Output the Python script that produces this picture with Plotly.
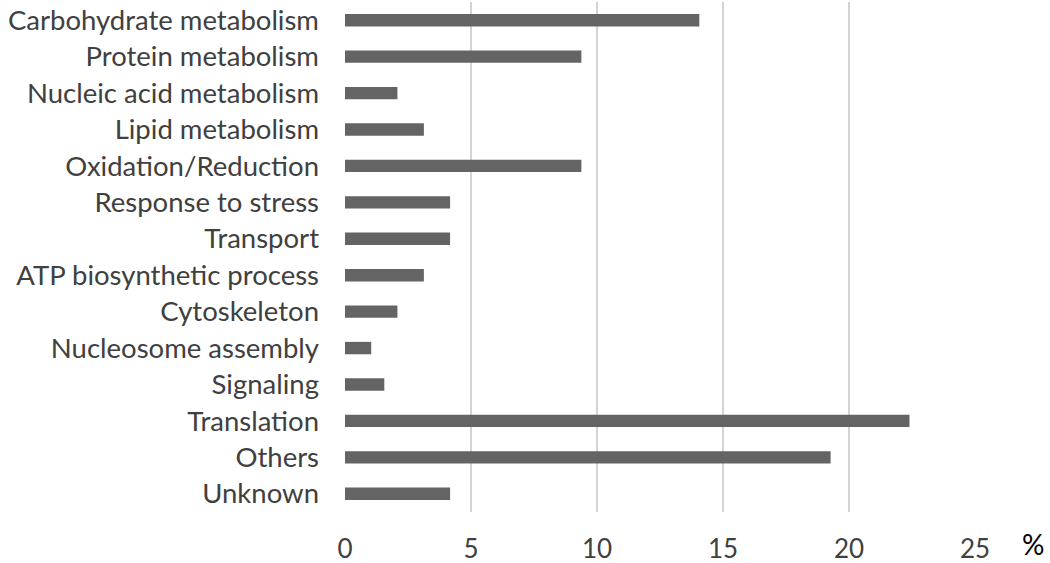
import plotly.graph_objects as go

categories = [
    "Carbohydrate metabolism", "Protein metabolism", "Nucleic acid metabolism",
    "Lipid metabolism", "Oxidation/Reduction", "Response to stress", "Transport",
    "ATP biosynthetic process", "Cytoskeleton", "Nucleosome assembly", "Signaling",
    "Translation", "Others", "Unknown",
]
percent = [14.06, 9.38, 2.08, 3.13, 9.38, 4.17, 4.17, 3.13, 2.08, 1.04, 1.56, 22.40, 19.27, 4.17]
x_ticks = [0, 5, 10, 15, 20, 25]

FONT = "Lato"
fig = go.Figure(go.Bar(
    x=percent, y=categories, orientation="h",
    marker=dict(color="#646464", line=dict(width=0)),
    width=0.34,
))

fig.update_layout(
    width=1050, height=563,
    margin=dict(l=345, r=75, t=2, b=51),
    paper_bgcolor="white", plot_bgcolor="white",
    showlegend=False,
    font=dict(family=FONT, color="#404040"),
    xaxis=dict(
        range=[0, 25], tickvals=x_ticks, ticktext=[str(v) for v in x_ticks],
        showgrid=True, gridcolor="#d4d4d4", gridwidth=2,
        zeroline=False, showline=False, automargin=False,
        tickfont=dict(size=26, color="#404040", family=FONT),
        ticks="", ticklabelstandoff=19,
    ),
    yaxis=dict(
        autorange="reversed", showgrid=False, zeroline=False, showline=False,
        automargin=False,
        tickfont=dict(size=27.5, color="#404040", family=FONT),
        ticks="", ticklabelstandoff=25,
    ),
    annotations=[dict(
        text="%", xref="paper", yref="paper", x=1.0, y=0, xshift=58, yshift=-32,
        showarrow=False, font=dict(size=28, color="black", family=FONT),
        xanchor="center", yanchor="middle",
    )],
)

fig.write_html("out.html", config={"displayModeBar": False},
               post_script="document.body.style.margin='0';")
